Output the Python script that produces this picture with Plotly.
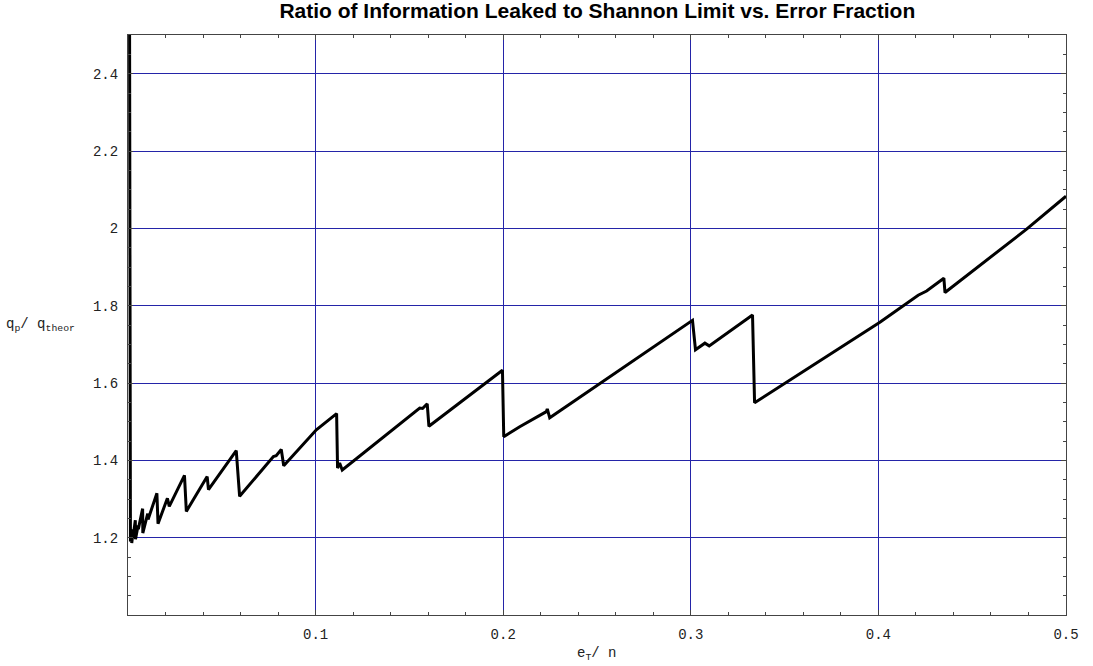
import plotly.graph_objects as go

# Data
error_fraction = [0.0005, 0.0011, 0.0013, 0.00195, 0.0020, 0.0027, 0.0028, 0.0039, 0.0040,
                  0.0054, 0.0055, 0.0078, 0.0079, 0.0105, 0.0107, 0.0154, 0.0160, 0.0210,
                  0.0220, 0.0301, 0.0311, 0.0422, 0.0429, 0.0577, 0.0595, 0.0775, 0.0790,
                  0.0817, 0.0830, 0.1004, 0.1112, 0.1117, 0.1128, 0.1142, 0.1555, 0.1570,
                  0.1595, 0.1604, 0.1996, 0.2003, 0.2088, 0.2230, 0.2235, 0.2248, 0.3009,
                  0.3025, 0.3075, 0.3098, 0.3329, 0.3340, 0.4008, 0.4212, 0.4257, 0.4349,
                  0.4355, 0.4790, 0.5000]
leak_ratio = [3.5, 1.25, 1.19, 1.222, 1.186, 1.215, 1.205, 1.245, 1.196,
              1.232, 1.222, 1.275, 1.212, 1.262, 1.247, 1.315, 1.236, 1.302,
              1.281, 1.361, 1.268, 1.358, 1.324, 1.425, 1.307, 1.410, 1.412,
              1.428, 1.386, 1.479, 1.521, 1.380, 1.393, 1.375, 1.535, 1.534,
              1.546, 1.488, 1.633, 1.461, 1.487, 1.526, 1.533, 1.510, 1.762,
              1.686, 1.703, 1.696, 1.776, 1.549, 1.757, 1.827, 1.838, 1.871,
              1.834, 1.998, 2.083]

x_ticks = [0.1, 0.2, 0.3, 0.4, 0.5]
x_tick_labels = ["0.1", "0.2", "0.3", "0.4", "0.5"]
y_ticks = [1.2, 1.4, 1.6, 1.8, 2.0, 2.2, 2.4]
y_tick_labels = ["1.2", "1.4", "1.6", "1.8", "2", "2.2", "2.4"]

title_text = "Ratio of Information Leaked to Shannon Limit vs. Error Fraction"
x_label = "e<sub>T</sub>/ n"
y_label = "q<sub>p</sub>/ q<sub>theor</sub>"

mono = "Liberation Mono, Courier New, monospace"
grid_color = "#2424a8"
axis_color = "#444444"

fig = go.Figure()
fig.add_trace(go.Scatter(
    x=error_fraction, y=leak_ratio, mode="lines",
    line=dict(color="black", width=3), showlegend=False,
))

common_axis = dict(
    showline=True, linecolor=axis_color, linewidth=1, mirror="ticks",
    ticks="inside", ticklen=5, tickcolor=axis_color, tickwidth=1,
    showgrid=True, gridcolor=grid_color, gridwidth=1, zeroline=False,
    tickfont=dict(family=mono, size=14, color="#222222"),
)

fig.update_xaxes(
    range=[0, 0.5], tickvals=x_ticks, ticktext=x_tick_labels, ticklabelstandoff=6,
    minor=dict(ticks="inside", dtick=0.02, tick0=0, ticklen=3, tickcolor=axis_color, showgrid=False),
    **common_axis,
)
fig.update_yaxes(
    range=[1.0, 2.5], tickvals=y_ticks, ticktext=y_tick_labels, ticklabelstandoff=6,
    minor=dict(ticks="inside", dtick=0.05, tick0=1.0, ticklen=3, tickcolor=axis_color, showgrid=False),
    **common_axis,
)

fig.update_layout(
    width=1093, height=666,
    margin=dict(l=128, r=27, t=35, b=51),
    paper_bgcolor="white", plot_bgcolor="white",
    title=dict(text="<b>" + title_text + "</b>", x=0.5465, xanchor="center",
               y=1 - 11 / 666, yanchor="middle",
               font=dict(family="Liberation Sans, Arial, sans-serif", size=21, color="black")),
    annotations=[
        dict(text=x_label, xref="paper", yref="paper", x=0.5, y=-0.068,
             xanchor="center", yanchor="middle", showarrow=False,
             font=dict(family=mono, size=14, color="#222222")),
        dict(text=y_label, xref="paper", yref="paper", x=-0.054, y=0.5,
             xanchor="right", yanchor="middle", showarrow=False,
             font=dict(family=mono, size=14, color="#222222")),
    ],
)

fig.write_html("out.html", config={"displayModeBar": False},
               post_script="document.body.style.margin='0';")
